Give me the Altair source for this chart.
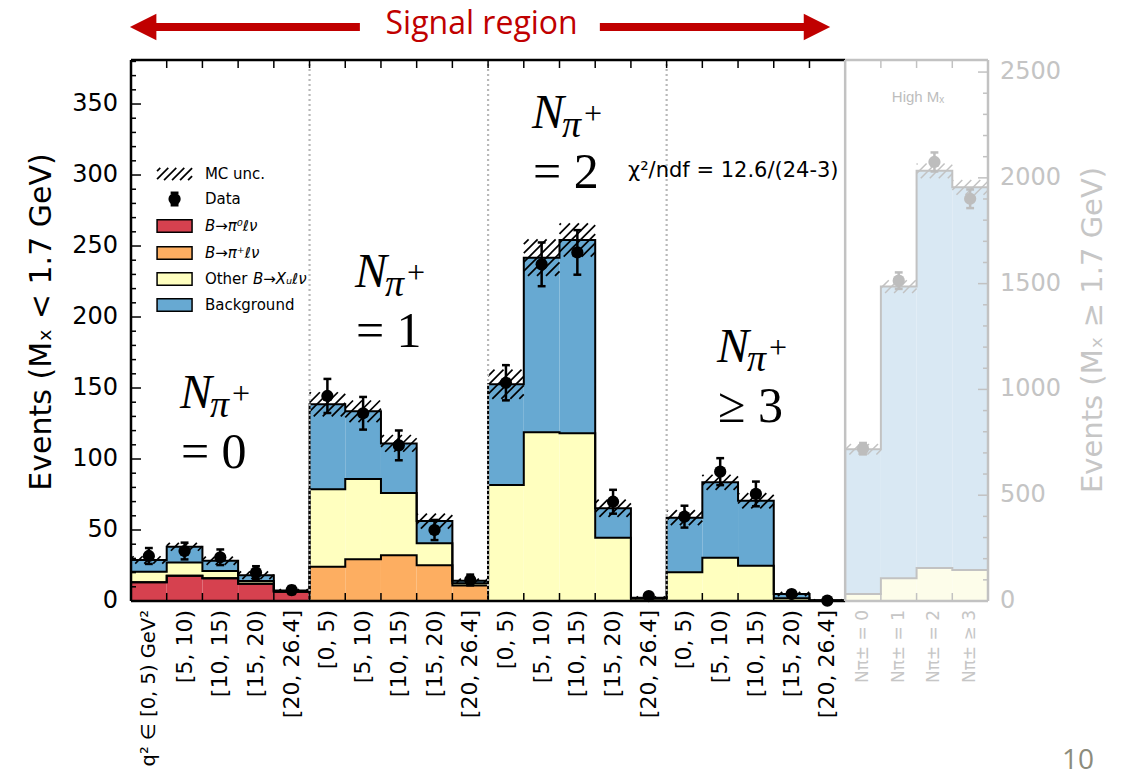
import altair as alt
import numpy as np
import pandas as pd

# ---------------- data ----------------
bin_labels = ["q² ∈ [0, 5) GeV²", "[5, 10)", "[10, 15)", "[15, 20)", "[20, 26.4]",
              "[0, 5)", "[5, 10)", "[10, 15)", "[15, 20)", "[20, 26.4]",
              "[0, 5)", "[5, 10)", "[10, 15)", "[15, 20)", "[20, 26.4]",
              "[0, 5)", "[5, 10)", "[10, 15)", "[15, 20)", "[20, 26.4]"]
hi_bin_labels = ["Nπ± = 0", "Nπ± = 1", "Nπ± = 2", "Nπ± ≥ 3"]
y_ticks_left = [0, 50, 100, 150, 200, 250, 300, 350]
y_ticks_right = [0, 500, 1000, 1500, 2000, 2500]

# signal region (M_X < 1.7 GeV), 20 bins
b_pi0 = [13.2, 17.8, 16.0, 12.2, 6.6, 0, 0, 0, 0, 0, 0, 0, 0, 0, 0, 0, 0, 0, 0, 0]
b_pip = [0, 0, 0, 0, 0, 24.2, 29.4, 32.2, 25.1, 11.0, 0, 0, 0, 0, 0, 0, 0, 0, 0, 0]
other_xu = [7.4, 9.4, 5.1, 1.9, 0.3, 54.5, 56.5, 43.8, 15.5, 1.5,
            81.7, 118.8, 118.1, 44.6, 1.5, 20.2, 30.5, 24.9, 1.9, 0.3]
background = [8.3, 11.0, 7.3, 4.0, 0.5, 59.8, 47.7, 35.0, 15.7, 1.8,
              70.9, 123.0, 136.1, 20.7, 0.8, 38.5, 53.1, 45.7, 3.0, 0.3]
mc_unc = [2.6, 2.8, 2.9, 2.7, 1.0, 8.5, 7.6, 5.9, 5.3, 1.5,
          10.3, 12.9, 11.7, 6.1, 1.0, 5.3, 5.3, 5.3, 1.5, 0.5]
data_val = [31.7, 35.2, 30.8, 20.0, 7.7, 144.4, 132.2, 109.6, 50.0, 14.8,
            153.7, 237.1, 245.5, 69.9, 3.5, 59.4, 91.1, 75.4, 4.9, 0.3]
data_err = [5.6, 5.9, 5.5, 4.5, 2.8, 12.0, 11.5, 10.5, 7.1, 3.8,
            12.4, 15.4, 15.7, 8.4, 1.9, 7.7, 9.5, 8.7, 2.2, 0.5]

# high M_X control region, 4 bins
hi_other = [33, 108, 156, 146]
hi_background = [684, 1378, 1877, 1809]
hi_unc = [25, 30, 35, 35]
hi_data = [720, 1514, 2075, 1901]
hi_err = [27, 39, 45, 44]

col_pi0, col_pip, col_oth, col_bkg = "#d6414f", "#fdae61", "#ffffbf", "#67a9d2"
hi_col_oth, hi_col_bkg = "#fdfdea", "#d9e8f3"
gray = "#c2c2c2"
lgray = "#c6c6c6"

# ---------------- geometry ----------------
W, H = 857, 541
N_SIG, N_ALL = 20, 24
YL_MAX, YR_MAX = 381, 2557
PPX = W / N_ALL
PPYL = H / YL_MAX
PPYR = H / YR_MAX

XS = alt.Scale(domain=[0, N_ALL], nice=False, zero=False)
YL = alt.Scale(domain=[0, YL_MAX], nice=False, zero=False)
YR = alt.Scale(domain=[0, YR_MAX], nice=False, zero=False)


def seg_chart(rows, ys, mark="rule", **mk):
    df = pd.DataFrame(rows)
    base = alt.Chart(df)
    m = base.mark_rule(**mk) if mark == "rule" else base.mark_rect(**mk)
    enc = dict(x=alt.X("x:Q", scale=XS, axis=None), x2="x2:Q",
               y=alt.Y("y:Q", scale=ys, axis=None), y2="y2:Q")
    if mark == "rect":
        enc["fill"] = alt.Fill("c:N", scale=None)
    return m.encode(**enc)


def text_chart(rows, ys, **mk):
    df = pd.DataFrame(rows)
    return alt.Chart(df).mark_text(**mk).encode(
        x=alt.X("x:Q", scale=XS, axis=None), y=alt.Y("y:Q", scale=ys, axis=None),
        text="t:N")


def point_chart(xs, ys_vals, ys, **mk):
    return alt.Chart(pd.DataFrame(dict(x=xs, y=ys_vals))).mark_circle(**mk).encode(
        x=alt.X("x:Q", scale=XS, axis=None), y=alt.Y("y:Q", scale=ys, axis=None))


def hatch(x0, x1, lo, hi, ppy, spacing=9.0):
    wb = (x1 - x0) * PPX
    hb = (hi - lo) * ppy
    out = []
    c = -wb + spacing / 2
    while c < hb:
        xs = max(0.0, -c)
        xe = min(wb, hb - c)
        if xe > xs:
            out.append(dict(x=x0 + xs / PPX, y=lo + (xs + c) / ppy,
                            x2=x0 + xe / PPX, y2=lo + (xe + c) / ppy))
        c += spacing
    return out


def errbars(centers, vals, errs, cap=0.11):
    rows = []
    for c, v, e in zip(centers, vals, errs):
        rows.append(dict(x=c, x2=c, y=max(v - e, 0), y2=v + e))
        rows.append(dict(x=c - cap, x2=c + cap, y=v + e, y2=v + e))
        if v - e > 0:
            rows.append(dict(x=c - cap, x2=c + cap, y=v - e, y2=v - e))
    return rows


# ---------------- signal region (left scale) ----------------
comps = [b_pi0, b_pip, other_xu, background]
cols = [col_pi0, col_pip, col_oth, col_bkg]
cum = np.cumsum(np.array(comps, dtype=float), axis=0)
lows = np.vstack([np.zeros(N_SIG), cum[:-1]])

rect_rows = []
for k in range(4):
    for i in range(N_SIG):
        if cum[k][i] - lows[k][i] > 0:
            rect_rows.append(dict(x=i, x2=i + 1, y=lows[k][i], y2=cum[k][i], c=cols[k]))
fills = seg_chart(rect_rows, YL, mark="rect")

step_rows = []
for k in range(4):
    for i in range(N_SIG + 1):
        step_rows.append(dict(x=i, y=cum[k][min(i, N_SIG - 1)], k=k))
steps = alt.Chart(pd.DataFrame(step_rows)).mark_line(
    interpolate="step-after", color="black", strokeWidth=2).encode(
    x=alt.X("x:Q", scale=XS, axis=None), y=alt.Y("y:Q", scale=YL, axis=None), detail="k:N")

hatch_rows = []
for i in range(N_SIG):
    t = cum[3][i]
    hatch_rows += hatch(i, i + 1, max(t - mc_unc[i], 0), t + mc_unc[i], PPYL)
hatches = seg_chart(hatch_rows, YL, color="black", strokeWidth=1.7)

seps = seg_chart([dict(x=g, x2=g, y=0, y2=YL_MAX) for g in (5, 10, 15)], YL,
                 color="#b8b8b8", strokeWidth=2.2, strokeDash=[2, 3])

centers = [i + 0.5 for i in range(N_SIG)]
ebars = seg_chart(errbars(centers, data_val, data_err), YL, color="black", strokeWidth=2.5)
pts = point_chart(centers, data_val, YL, size=150, color="black", opacity=1)

frame = seg_chart([dict(x=0, x2=N_SIG, y=YL_MAX, y2=YL_MAX),
                   dict(x=0, x2=0, y=0, y2=YL_MAX),
                   dict(x=0, x2=N_SIG, y=0, y2=0)], YL, color="black", strokeWidth=2.5)

tick_rows = []
for v in range(10, YL_MAX, 10):
    ln = 10 if v % 50 == 0 else 5
    tick_rows.append(dict(x=0, x2=ln / PPX, y=v, y2=v))
for e in range(1, N_SIG):
    tick_rows.append(dict(x=e, x2=e, y=0, y2=8 / PPYL))
    tick_rows.append(dict(x=e, x2=e, y=YL_MAX - 8 / PPYL, y2=YL_MAX))
ticks_l = seg_chart(tick_rows, YL, color="black", strokeWidth=1.5)

# axis labels and titles (text marks placed through the scales)
ylab_l = text_chart([dict(x=0, y=v, t=str(v)) for v in y_ticks_left], YL, align="right",
                    baseline="middle", font="DejaVu Sans", fontSize=24, color="black", dx=-13)
ytitle_l = text_chart([dict(x=-2.49, y=196.5, t="Events (Mₓ < 1.7 GeV)")], YL, align="center",
                      baseline="middle", angle=270, font="DejaVu Sans", fontSize=30, color="black")
xlab_first = text_chart([dict(x=0.5, y=0, t=bin_labels[0])], YL,
                        align="right", baseline="middle", angle=270, font="DejaVu Sans",
                        fontSize=19.5, color="black", dx=-9)
xlab = text_chart([dict(x=i + 0.5, y=0, t=bin_labels[i]) for i in range(1, N_SIG)], YL,
                  align="right", baseline="middle", angle=270, font="DejaVu Sans",
                  fontSize=22, color="black", dx=-9)
xlab_hi = text_chart([dict(x=N_SIG + j + 0.5, y=0, t=hi_bin_labels[j]) for j in range(4)], YL,
                     align="right", baseline="middle", angle=270, font="DejaVu Sans",
                     fontSize=17, color=lgray, dx=-9)

# legend
leg_y = [300.7, 283.1, 264.1, 245.1, 226.8, 208.5]
lx0, lx1, ltx = 0.73, 1.71, 2.07
leg_hatch = seg_chart(hatch(lx0, lx1, leg_y[0] - 4.3, leg_y[0] + 4.3, PPYL, spacing=8),
                      YL, color="black", strokeWidth=1.7)
leg_sw = seg_chart([dict(x=lx0, x2=lx1, y=leg_y[k + 2] - 4.4, y2=leg_y[k + 2] + 4.4, c=cols[k])
                    for k in range(4)], YL, mark="rect", stroke="black", strokeWidth=1.5)
lc = (lx0 + lx1) / 2
leg_eb = seg_chart(errbars([lc], [leg_y[1]], [4.4]), YL, color="black", strokeWidth=2.5)
leg_pt = point_chart([lc], [leg_y[1]], YL, size=150, color="black", opacity=1)
leg_txt = text_chart([dict(x=ltx, y=leg_y[0], t="MC unc."), dict(x=ltx, y=leg_y[1], t="Data"),
                      dict(x=ltx, y=leg_y[4], t="Other"), dict(x=ltx, y=leg_y[5], t="Background")],
                     YL, align="left", baseline="middle", font="DejaVu Sans", fontSize=15, color="black")
leg_it = text_chart([dict(x=ltx, y=leg_y[2], t="B→π⁰ℓν"), dict(x=ltx, y=leg_y[3], t="B→π⁺ℓν")],
                    YL, align="left", baseline="middle", font="DejaVu Sans", fontSize=15,
                    fontStyle="italic", color="black")
leg_it2 = text_chart([dict(x=ltx, y=leg_y[4], t="B→Xᵤℓν")], YL, align="left", baseline="middle",
                     font="DejaVu Sans", fontSize=15, fontStyle="italic", color="black", dx=48)

# big N_pi+ group labels
grp_x = [1.37, 6.27, 11.23, 16.41]
grp_y = [135.9, 221.1, 333.1, 168.3]
grp_txt = ["= 0", "= 1", "= 2", "≥ 3"]
serif = "Liberation Serif"
g_N = text_chart([dict(x=x, y=y, t="N") for x, y in zip(grp_x, grp_y)], YL, align="left",
                 baseline="alphabetic", font=serif, fontSize=48, fontStyle="italic", color="black")
g_pi = text_chart([dict(x=x, y=y, t="π") for x, y in zip(grp_x, grp_y)], YL, align="left",
                  baseline="alphabetic", font=serif, fontSize=38, fontStyle="italic",
                  color="black", dx=30, dy=9)
g_plus = text_chart([dict(x=x, y=y, t="+") for x, y in zip(grp_x, grp_y)], YL, align="left",
                    baseline="alphabetic", font=serif, fontSize=32, color="black", dx=52, dy=-4)
g_eq = text_chart([dict(x=x, y=y, t=t) for x, y, t in zip(grp_x, grp_y, grp_txt)], YL,
                  align="left", baseline="alphabetic", font=serif, fontSize=50,
                  color="black", dx=1, dy=60)

chi2 = text_chart([dict(x=13.92, y=298.6, t="χ²/ndf = 12.6/(24-3)")], YL, align="left",
                  baseline="alphabetic", font="DejaVu Sans", fontSize=21, color="black")

# "Signal region" banner above the plot
red = "#c00000"
arrow_y = 404.2
shafts = seg_chart([dict(x=0.53, x2=6.41, y=arrow_y, y2=arrow_y),
                    dict(x=13.13, x2=19.02, y=arrow_y, y2=arrow_y)], YL, color=red, strokeWidth=8)
head_l = alt.Chart(pd.DataFrame(dict(x=[0.34], y=[arrow_y]))).mark_point(
    shape="M1,-1L-1,0L1,1Z", size=700, filled=True, color=red, opacity=1).encode(
    x=alt.X("x:Q", scale=XS, axis=None), y=alt.Y("y:Q", scale=YL, axis=None))
head_r = alt.Chart(pd.DataFrame(dict(x=[19.21], y=[arrow_y]))).mark_point(
    shape="M-1,-1L1,0L-1,1Z", size=700, filled=True, color=red, opacity=1).encode(
    x=alt.X("x:Q", scale=XS, axis=None), y=alt.Y("y:Q", scale=YL, axis=None))
banner = text_chart([dict(x=9.82, y=406.3, t="Signal region")], YL, align="center",
                    baseline="middle", font="Open Sans", fontSize=32, color=red)
pageno = text_chart([dict(x=26.52, y=-112.7, t="10")], YL, align="center", baseline="middle",
                    font="Open Sans", fontSize=28, color="#8c8c7c")

left = alt.layer(fills, steps, hatches, seps, ebars, pts, frame, ticks_l,
                 ylab_l, ytitle_l, xlab_first, xlab, xlab_hi,
                 leg_hatch, leg_sw, leg_eb, leg_pt, leg_txt, leg_it, leg_it2,
                 g_N, g_pi, g_plus, g_eq, chi2, shafts, head_l, head_r, banner, pageno)

# ---------------- high M_X region (right scale) ----------------
hcum1 = np.array(hi_other, dtype=float)
hcum2 = hcum1 + np.array(hi_background, dtype=float)
hr_rows = []
for j in range(4):
    x0 = N_SIG + j
    hr_rows.append(dict(x=x0, x2=x0 + 1, y=0, y2=hcum1[j], c=hi_col_oth))
    hr_rows.append(dict(x=x0, x2=x0 + 1, y=hcum1[j], y2=hcum2[j], c=hi_col_bkg))
hfills = seg_chart(hr_rows, YR, mark="rect")

hstep_rows = []
for k, arr in enumerate([hcum1, hcum2]):
    for j in range(5):
        hstep_rows.append(dict(x=N_SIG + j, y=arr[min(j, 3)], k=k))
hsteps = alt.Chart(pd.DataFrame(hstep_rows)).mark_line(
    interpolate="step-after", color=gray, strokeWidth=2).encode(
    x=alt.X("x:Q", scale=XS, axis=None), y=alt.Y("y:Q", scale=YR, axis=None), detail="k:N")

hh_rows = []
for j in range(4):
    hh_rows += hatch(N_SIG + j, N_SIG + j + 1, hcum2[j] - hi_unc[j], hcum2[j] + hi_unc[j], PPYR)
hhatch = seg_chart(hh_rows, YR, color=gray, strokeWidth=1.5)

hcent = [N_SIG + j + 0.5 for j in range(4)]
heb = seg_chart(errbars(hcent, hi_data, hi_err), YR, color="#bdbdbd", strokeWidth=2.5)
hpts = point_chart(hcent, hi_data, YR, size=150, color="#bdbdbd", opacity=1)

hframe = seg_chart([dict(x=N_SIG, x2=N_ALL, y=YR_MAX, y2=YR_MAX),
                    dict(x=N_SIG, x2=N_ALL, y=0, y2=0),
                    dict(x=N_SIG, x2=N_SIG, y=0, y2=YR_MAX),
                    dict(x=N_ALL, x2=N_ALL, y=0, y2=YR_MAX)], YR, color=gray, strokeWidth=2.5)

htick_rows = []
for v in range(100, YR_MAX, 100):
    ln = 10 if v % 500 == 0 else 5
    htick_rows.append(dict(x=N_ALL - ln / PPX, x2=N_ALL, y=v, y2=v))
for e in range(N_SIG + 1, N_ALL):
    htick_rows.append(dict(x=e, x2=e, y=0, y2=8 / PPYR))
    htick_rows.append(dict(x=e, x2=e, y=YR_MAX - 8 / PPYR, y2=YR_MAX))
hticks = seg_chart(htick_rows, YR, color=gray, strokeWidth=1.5)

hlabel = text_chart([dict(x=22.04, y=2382, t="High Mₓ")], YR, align="center", baseline="middle",
                    font="Liberation Sans", fontSize=15, color="#bdbdbd")
ylab_r = text_chart([dict(x=N_ALL, y=v, t=str(v)) for v in y_ticks_right], YR, align="left",
                    baseline="middle", font="DejaVu Sans", fontSize=24, color="#c4c4c4", dx=12)
ytitle_r = text_chart([dict(x=26.94, y=1281, t="Events (Mₓ ≥ 1.7 GeV)")], YR, align="center",
                      baseline="middle", angle=270, font="DejaVu Sans", fontSize=29, color=lgray)

right = alt.layer(hfills, hsteps, hhatch, heb, hpts, hframe, hticks, hlabel, ylab_r, ytitle_r)

chart = alt.layer(left, right).resolve_scale(y="independent").properties(
    width=W, height=H,
    autosize=alt.AutoSizeParams(type="none"),
    padding={"left": 131, "top": 60, "right": 1129 - 131 - W, "bottom": 782 - 60 - H},
    background="white",
).configure_view(strokeWidth=0)

chart.save("out.html", embed_options={"renderer": "svg", "actions": False})
